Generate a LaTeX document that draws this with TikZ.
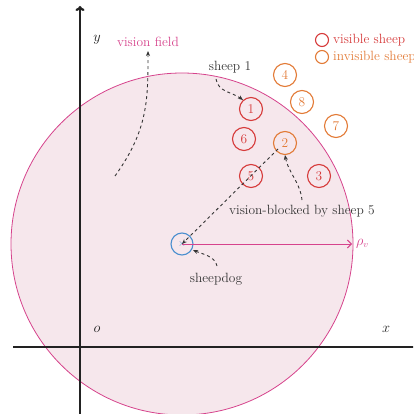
\documentclass[tikz,border=0pt]{standalone}
\usetikzlibrary{arrows.meta}
\definecolor{sred}{HTML}{D63A3A}
\definecolor{sorange}{HTML}{E27A36}
\definecolor{dogblue}{HTML}{4A8FCF}
\definecolor{fieldmag}{HTML}{D6438C}
\definecolor{fieldfill}{HTML}{F6E7EC}
\definecolor{axisc}{HTML}{222222}
\definecolor{dashc}{HTML}{333333}
\begin{document}
\begin{tikzpicture}[x=1pt,y=-1pt,
  every node/.style={font=\fontsize{13.4}{15}\selectfont},
  vis/.style={circle,draw=sred,text=sred,line width=1.1pt,minimum size=23pt,inner sep=0pt},
  invis/.style={circle,draw=sorange,text=sorange,line width=1.1pt,minimum size=23pt,inner sep=0pt},
  note/.style={dashc,dashed,line width=0.9pt,dash pattern=on 3pt off 3pt,-{Stealth[length=5pt,width=4pt]}},
  lab/.style={text=dashc}]
\useasboundingbox (0,0) rectangle (413,414);
\begin{scope}
\clip (0,0) rectangle (413,414);
% vision field
\fill[fieldfill] (182,244) circle (171);
\draw[fieldmag,line width=0.8pt] (182,244) circle (171);
% axes
\draw[axisc,line width=2.2pt] (13,347) -- (430,347);
\draw[axisc,line width=2.2pt,-{To[length=5pt,width=9pt]}] (80,420) -- (80,6);
\end{scope}
\node[text=axisc] (ylab) at (97,40) {$y$};
\node[text=axisc] (olab) at (97,329) {$o$};
\node[text=axisc] (xlab) at (386,329) {$x$};
% dog
\node[circle,draw=dogblue,line width=1.1pt,minimum size=22pt,inner sep=0pt] (dog) at (182,244) {};
\node[text=dogblue,inner sep=0pt,font=\fontsize{10}{12}\selectfont] (dogx) at (182,244) {$\times$};
% radius
\coordinate (rend) at (352,244);
\draw[fieldmag,line width=0.9pt,-{Straight Barb[length=4pt]}] (dog.center) -- (rend);
\node[text=fieldmag,anchor=west,inner sep=1pt] (rho) at (355,244) {$\rho_v$};
% sheep
\node[vis] (s1) at (251,109) {1};
\node[vis] (s6) at (244,139) {6};
\node[invis] (s2) at (285,143) {2};
\node[vis] (s5) at (251,176) {5};
\node[vis] (s3) at (319,176) {3};
\node[invis] (s4) at (285,75) {4};
\node[invis] (s8) at (302,102) {8};
\node[invis] (s7) at (336,126) {7};
% legend
\node[circle,draw=sred,line width=1.1pt,minimum size=13pt,inner sep=0pt] (lv) at (322,40) {};
\node[anchor=west,text=sred,inner sep=0pt] (lvt) at (333,40) {visible sheep};
\node[circle,draw=sorange,line width=1.1pt,minimum size=13pt,inner sep=0pt] (li) at (322,57) {};
\node[anchor=west,text=sorange,inner sep=0pt] (lit) at (333,57) {invisible sheep};
% labels
\node[text=fieldmag] (vf) at (148,42) {vision field};
\node[lab] (sh1) at (230,67) {sheep 1};
\node[lab] (vb) at (302,211) {vision-blocked by sheep 5};
\node[lab] (sd) at (216,279) {sheepdog};
% annotation arrows
\coordinate (vfs) at (115,176);
\draw[note] (vfs) .. controls (148,130) and (148,100) .. (148,51);
\coordinate (sh1s) at (216,79);
\draw[note] (sh1s) .. controls (218,92) and (232,92) .. (243,100);
\coordinate (s2near) at (278,149);
\draw[note] (s2near) -- (dog.center);
\coordinate (vbs) at (302,200);
\draw[note] (vbs) .. controls (300,182) and (288,172) .. (285,155);
\coordinate (sds) at (217,266);
\draw[note] (sds) .. controls (215,256) and (202,254) .. (193,250);
\end{tikzpicture}
\end{document}
